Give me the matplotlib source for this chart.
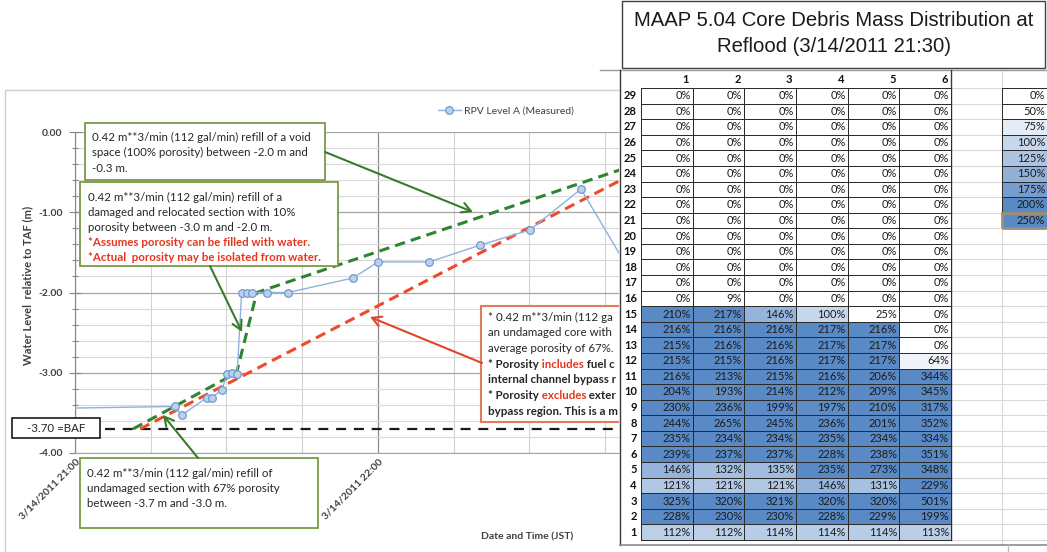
import numpy as np
import matplotlib
matplotlib.use("Agg")
import matplotlib.pyplot as plt
from matplotlib.patches import Rectangle, FancyArrowPatch
from matplotlib.lines import Line2D
from matplotlib.text import Annotation
from matplotlib.transforms import Affine2D
from matplotlib.colors import LinearSegmentedColormap, Normalize
from matplotlib.ticker import MultipleLocator

# ---------------------------------------------------------------- data
# RPV level A (measured): minutes after 3/14/2011 21:00, metres relative to TAF
meas_minutes = [-10.0, 19.8, 21.1, 26.1, 27.1, 29.1, 30.1, 31.1, 32.1, 33.0, 34.0,
                35.0, 38.0, 42.2, 55.0, 60.0, 70.1, 80.2, 90.1, 100.2, 110.0]
meas_level = [-3.45, -3.42, -3.53, -3.31, -3.31, -3.21, -3.02, -3.00, -3.02, -2.00, -2.00,
              -2.00, -2.00, -2.00, -1.82, -1.62, -1.62, -1.41, -1.22, -0.71, -1.75]

# refill estimate with region-dependent porosity (67% / 10% / 100%)
staged_minutes = [11.5, 32.0, 36.0, 116.0]
staged_level = [-3.7, -3.0, -2.0, -0.3]

# refill estimate with 67% porosity throughout
uniform_minutes = [12.9, 126.5]
uniform_level = [-3.7, 0.0]

baf_level = -3.70
baf_minutes = [5.9, 130.0]

time_ticks = [0, 60]
time_labels = ["3/14/2011 21:00", "3/14/2011 22:00"]
level_ticks = [-4, -3, -2, -1, 0]

# core debris mass per node (node 1 at bottom ... node 29 at top), rings 1-6, percent
ring_1 = [112, 228, 325, 121, 146, 239, 235, 244, 230, 204, 216, 215, 215, 216, 210] + [0] * 14
ring_2 = [112, 230, 320, 121, 132, 237, 234, 265, 236, 193, 213, 215, 216, 216, 217, 9] + [0] * 13
ring_3 = [114, 230, 321, 121, 135, 237, 234, 245, 199, 214, 215, 216, 216, 216, 146] + [0] * 14
ring_4 = [114, 228, 320, 146, 235, 228, 235, 236, 197, 212, 216, 217, 217, 217, 100] + [0] * 14
ring_5 = [114, 229, 320, 131, 273, 238, 234, 201, 210, 209, 206, 217, 217, 216, 25] + [0] * 14
ring_6 = [113, 199, 501, 229, 348, 351, 334, 352, 317, 345, 344, 64, 0, 0, 0] + [0] * 14
ring_names = ["1", "2", "3", "4", "5", "6"]
scale_steps = [0, 50, 75, 100, 125, 150, 175, 200, 250]

# ---------------------------------------------------------------- fonts
plt.rcParams["font.family"] = ["Lato", "DejaVu Sans"]
plt.rcParams["axes.unicode_minus"] = False
title_font = ["Liberation Sans", "DejaVu Sans"]

# ---------------------------------------------------------------- figure
W, H = 1047, 552
fig = plt.figure(figsize=(W / 100, H / 100), dpi=100)
fig.patch.set_facecolor("white")
px = Affine2D().scale(1 / W, -1 / H).translate(0, 1) + fig.transFigure


def frame(x0, y0, x1, y1):
    return [x0 / W, 1 - y1 / H, (x1 - x0) / W, (y1 - y0) / H]


def hline(y, x0, x1, color, lw=0.8, z=-1):
    fig.add_artist(Line2D([x0, x1], [y, y], transform=px, color=color, lw=lw, zorder=z))


def vline(x, y0, y1, color, lw=0.8, z=-1):
    fig.add_artist(Line2D([x, x], [y0, y1], transform=px, color=color, lw=lw, zorder=z))


# ---------------------------------------------------------------- chart
ax = fig.add_axes(frame(75, 132, 619, 453))
ax.set_xlim(0, (619 - 75) / 5.05)
ax.set_ylim(-4, 0)

ax.xaxis.set_minor_locator(MultipleLocator(15))
ax.yaxis.set_minor_locator(MultipleLocator(0.2))
ax.grid(which="minor", axis="y", color="#D9D9D9", lw=0.8)
ax.grid(which="major", axis="y", color="#A6A6A6", lw=0.9)
ax.grid(which="minor", axis="x", color="#D3D3D3", lw=0.8)
ax.grid(which="major", axis="x", color="#8C8C8C", lw=0.9)
ax.set_axisbelow(True)
for s in ("top", "right"):
    ax.spines[s].set_visible(False)
ax.spines["left"].set_color("#868686")
ax.spines["bottom"].set_color("#A6A6A6")

ax.set_yticks(level_ticks, labels=[f"{v:.2f}" for v in level_ticks],
              fontsize=7.5, fontweight="bold", color="#404040")
ax.set_xticks(time_ticks, labels=time_labels, rotation=45, ha="right", va="top",
              rotation_mode="anchor", fontsize=7.5, fontweight="bold", color="#404040")
ax.tick_params(axis="y", which="major", direction="inout", length=8, width=0.8,
               color="#868686", pad=5)
ax.tick_params(axis="y", which="minor", direction="inout", length=5, width=0.8,
               color="#868686")
ax.tick_params(axis="x", which="major", length=0, pad=3)
ax.tick_params(axis="x", which="minor", length=0)

ax.set_ylabel("Water Level  relative to TAF (m)", fontsize=8, fontweight="bold",
              color="#404040")
ax.yaxis.set_label_coords((33 - 75) / 544, (453 - 285) / 321)
ax.set_xlabel("Date and Time (JST)", fontsize=7.5, fontweight="bold", color="#404040")
ax.xaxis.set_label_coords((527 - 75) / 544, -(532 - 453) / 321)

ax.plot(baf_minutes, [baf_level, baf_level], color="#1A1A1A", lw=1.6,
        dashes=(4.5, 3.5), zorder=2)
ax.plot(uniform_minutes, uniform_level, color="#EE4B2B", lw=2.2, dashes=(3.4, 2.0), zorder=2)
ax.plot(staged_minutes, staged_level, color="#2E8433", lw=2.2, dashes=(3.4, 2.0), zorder=2)
meas_line, = ax.plot(meas_minutes, meas_level, color="#8EB2DC", lw=1.0, marker="o", ms=5.5,
                     mfc="#BCD0E9", mec="#6F9BD1", mew=0.9, zorder=3)

ax.legend(handles=[meas_line], labels=["RPV Level A (Measured)"], loc="center left",
          bbox_to_anchor=(438 / W, 1 - 111 / H), bbox_transform=fig.transFigure,
          frameon=False, fontsize=7.5, handlelength=2.2, handletextpad=0.3,
          borderpad=0, borderaxespad=0, labelcolor="#404040")

# outer chart border
fig.add_artist(Line2D([5, 5, 620], [552, 90, 90], transform=px, color="#D0D0D0", lw=1.0, zorder=-1))

# ---------------------------------------------------------------- callouts
GREEN_EDGE = "#7A9A48"
GREEN_ARROW = "#3B7A2C"
RED = "#E5361D"
TXT = "#262626"
FS = 8.3


def box(x0, y0, x1, y1, edge, lw=1.3, clip=False):
    r = Rectangle((x0, y0), x1 - x0, y1 - y0, transform=px, facecolor="white",
                  edgecolor=edge, lw=lw, zorder=1.5)
    if clip:
        r.set_clip_box(ax.bbox)
    fig.add_artist(r)


def arrow(a, b, color):
    fig.add_artist(FancyArrowPatch(a, b, transform=px, color=color, lw=1.5, zorder=1.6,
                                   arrowstyle="->,head_length=0.55,head_width=0.3",
                                   mutation_scale=12, shrinkA=0, shrinkB=0))


def write(x, y, dy, lines, clip=False):
    for i, segs in enumerate(lines):
        prev = None
        for text, color, weight in segs:
            if prev is None:
                t = fig.text(x, y + i * dy, text, transform=px, ha="left", va="center",
                             fontsize=FS, color=color, fontweight=weight, zorder=3)
            else:
                t = Annotation(text, xy=(1, 0), xycoords=prev, ha="left", va="bottom",
                               fontsize=FS, color=color, fontweight=weight, zorder=3)
                fig.add_artist(t)
            if clip:
                t.set_clip_box(ax.bbox)
                t.set_clip_on(True)
            prev = t


def plain(*lines, color=TXT, weight="normal"):
    return [[(s, color, weight)] for s in lines]


# void region refill (100% porosity)
box(85, 123, 325, 180, GREEN_EDGE)
write(92, 137, 15.5, plain("0.42 m**3/min (112 gal/min) refill of a void",
                           "space (100% porosity) between -2.0 m and",
                           "-0.3 m."))
arrow((325, 152), (473, 212), GREEN_ARROW)

# damaged / relocated region refill (10% porosity)
box(80, 182, 338, 266, GREEN_EDGE)
write(88, 197, 15.2, plain("0.42 m**3/min (112 gal/min) refill of a",
                           "damaged and relocated section with 10%",
                           "porosity between -3.0 m and -2.0 m.")
      + plain("*Assumes porosity can be filled with water.",
              "*Actual  porosity may be isolated from water.", color=RED, weight="bold"))
arrow((210, 266), (242, 332), GREEN_ARROW)

# undamaged region refill (67% porosity)
box(80, 458, 318, 528, GREEN_EDGE)
write(87, 473, 15.2, plain("0.42 m**3/min (112 gal/min) refill of",
                           "undamaged section with 67% porosity",
                           "between -3.7 m and -3.0 m."))
arrow((198, 458), (163, 415), GREEN_ARROW)

# uniform porosity estimate (runs on beneath the table at the right)
box(481, 306, 760, 422, "#E07B5F", lw=1.5, clip=True)
write(488, 317, 15.7,
      plain("* 0.42 m**3/min (112 ga",
            "an undamaged core with",
            "average porosity of 67%.")
      + [[("* Porosity", TXT, "bold"), (" includes", RED, "bold"), (" fuel c", TXT, "bold")],
         [("internal channel bypass r", TXT, "bold")],
         [("* Porosity", TXT, "bold"), (" excludes", RED, "bold"), (" exter", TXT, "bold")],
         [("bypass region. This is a m", TXT, "bold")]],
      clip=True)
arrow((482, 363), (370, 317), "#E0452B")

# bottom of active fuel marker
box(12, 418, 100, 438, "#1A1A1A", lw=1.2)
fig.text(56, 428, "-3.70 =BAF", transform=px, ha="center", va="center", fontsize=FS,
         color=TXT, zorder=3)

# ---------------------------------------------------------------- table
fill = LinearSegmentedColormap.from_list("fill", ["#FFFFFF", "#5A8AC6"])
norm = Normalize(50, 200, clip=True)
row_top, row_bot = 88, 540
pitch = (row_bot - row_top) / 29

# spreadsheet grid around the table
for k in range(30):
    hline(row_top + k * pitch, 951, W, "#D9D9D9")
vline(1002, 70, 545, "#D9D9D9")
hline(70, 600, W, "#9A9A9A", lw=1.0)
vline(620, 70, 545, "#3A3A3A", lw=1.0)
vline(951, 70, 540, "#3A3A3A", lw=1.0)
hline(545, 620, W, "#8C8C8C", lw=1.2)
vline(1008, 545, 552, "#BDBDBD", lw=1.0)

tb = fig.add_axes(frame(641, row_top, 951, row_bot))
grid = np.column_stack([ring_1, ring_2, ring_3, ring_4, ring_5, ring_6])
nodes = np.arange(1, 30)
mesh = tb.pcolormesh(np.arange(0.5, 7.0), np.arange(0.5, 30.0), grid, cmap=fill, norm=norm,
                     edgecolors="#2B2B2B", linewidth=0.55)
mesh.set_clip_on(False)
tb.set_xlim(0.5, 6.5)
tb.set_ylim(0.5, 29.5)
tb.axis("off")
for r, node in enumerate(nodes):
    tb.annotate(str(node), xy=(0.5, node), xytext=(-3, 0), textcoords="offset points",
                ha="right", va="center", fontsize=8, fontweight="bold", color="#111111")
    for c in range(6):
        tb.annotate(f"{grid[r, c]}%", xy=(c + 1.5, node), xytext=(-1.5, 0),
                    textcoords="offset points", ha="right", va="center", fontsize=8,
                    color="#1A1A1A")
for c, name in enumerate(ring_names):
    tb.annotate(name, xy=(c + 1.5, 29.5), xytext=(-2.5, 6), textcoords="offset points",
                ha="right", va="center", fontsize=8, fontweight="bold", color="#111111")

# colour scale key
lg = fig.add_axes(frame(1002, row_top, 1054, row_top + 9 * pitch))
key = np.array(scale_steps[::-1]).reshape(-1, 1)
km = lg.pcolormesh([0.5, 1.5], np.arange(0, 10), key, cmap=fill, norm=norm,
                   edgecolors="#2B2B2B", linewidth=0.55)
km.set_clip_on(False)
lg.set_xlim(0.5, 1.5)
lg.set_ylim(0, 9)
lg.axis("off")
lg.add_patch(Rectangle((0.5, 0), 1.0, 1.0, fill=False, edgecolor="#A08E70", lw=2.0,
                       clip_on=False))
for i, v in enumerate(scale_steps[::-1]):
    lg.annotate(f"{v}%", xy=(1.5, i + 0.5), xytext=(-6.5, 0), textcoords="offset points",
                ha="right", va="center", fontsize=8, color="#1A1A1A")

# ---------------------------------------------------------------- title
fig.add_artist(Rectangle((622, 1), 423, 67, transform=px, facecolor="white",
                         edgecolor="#404040", lw=1.0, zorder=1))
fig.text(834, 21, "MAAP 5.04 Core Debris Mass Distribution at", transform=px, ha="center",
         va="center", fontsize=14.6, family=title_font, color="#1A1A1A", zorder=3)
fig.text(834, 47, "Reflood (3/14/2011 21:30)", transform=px, ha="center",
         va="center", fontsize=14.6, family=title_font, color="#1A1A1A", zorder=3)

fig.savefig("out.png", dpi=100, facecolor="white")
